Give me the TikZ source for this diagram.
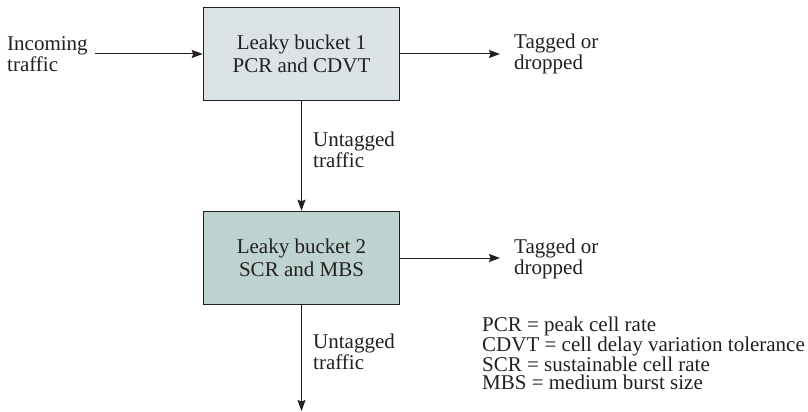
\documentclass[tikz,border=0pt]{standalone}
\usepackage{fontspec}
\setmainfont{Liberation Serif}
\usetikzlibrary{arrows.meta}
\definecolor{boxA}{HTML}{DCE3E6}
\definecolor{boxB}{HTML}{BED3CF}
\definecolor{ink}{HTML}{231F20}
\begin{document}
\begin{tikzpicture}[x=1pt,y=-1pt,
  bucket/.style={draw=ink,line width=1.6pt,minimum width=196pt,minimum height=93pt,align=center,inner sep=0pt,font=\fontsize{21}{23}\selectfont,text=ink},
  lbl/.style={align=left,anchor=west,inner sep=0pt,font=\fontsize{21}{21}\selectfont,text=ink},
  flow/.style={draw=ink,line width=1pt,-{Stealth[length=11pt,width=8pt,inset=1.5pt]}}]
\useasboundingbox (0,0) rectangle (808,412);
\node[bucket,fill=boxA] (b1) at (301.5,54) {Leaky bucket 1\\PCR and CDVT};
\node[bucket,fill=boxB] (b2) at (301.5,258) {Leaky bucket 2\\SCR and MBS};
\node[lbl] (inc) at (7,54) {Incoming\\traffic};
\node[lbl] (t1) at (514,54) {Tagged or\\dropped};
\node[lbl] (t2) at (514,259) {Tagged or\\dropped};
\node[lbl] (u1) at (313,150) {Untagged\\traffic};
\node[lbl] (u2) at (313,352) {Untagged\\traffic};
\node[align=left,anchor=north west,inner sep=0pt,font=\fontsize{21}{18}\selectfont,text=ink] (leg) at (482,317)
  {PCR = peak cell rate\\CDVT = cell delay variation tolerance\\SCR = sustainable cell rate\\MBS = medium burst size};
\coordinate (s0) at (95,54);
\coordinate (e1) at (500,54);
\coordinate (e2) at (500,258);
\coordinate (e3) at (301.5,411);
\draw[flow] (s0) -- (b1.west |- s0);
\draw[flow] (b1.east |- e1) -- (e1);
\draw[flow] (b1.south) -- (b2.north);
\draw[flow] (b2.east |- e2) -- (e2);
\draw[flow] (b2.south) -- (e3);
\end{tikzpicture}
\end{document}
